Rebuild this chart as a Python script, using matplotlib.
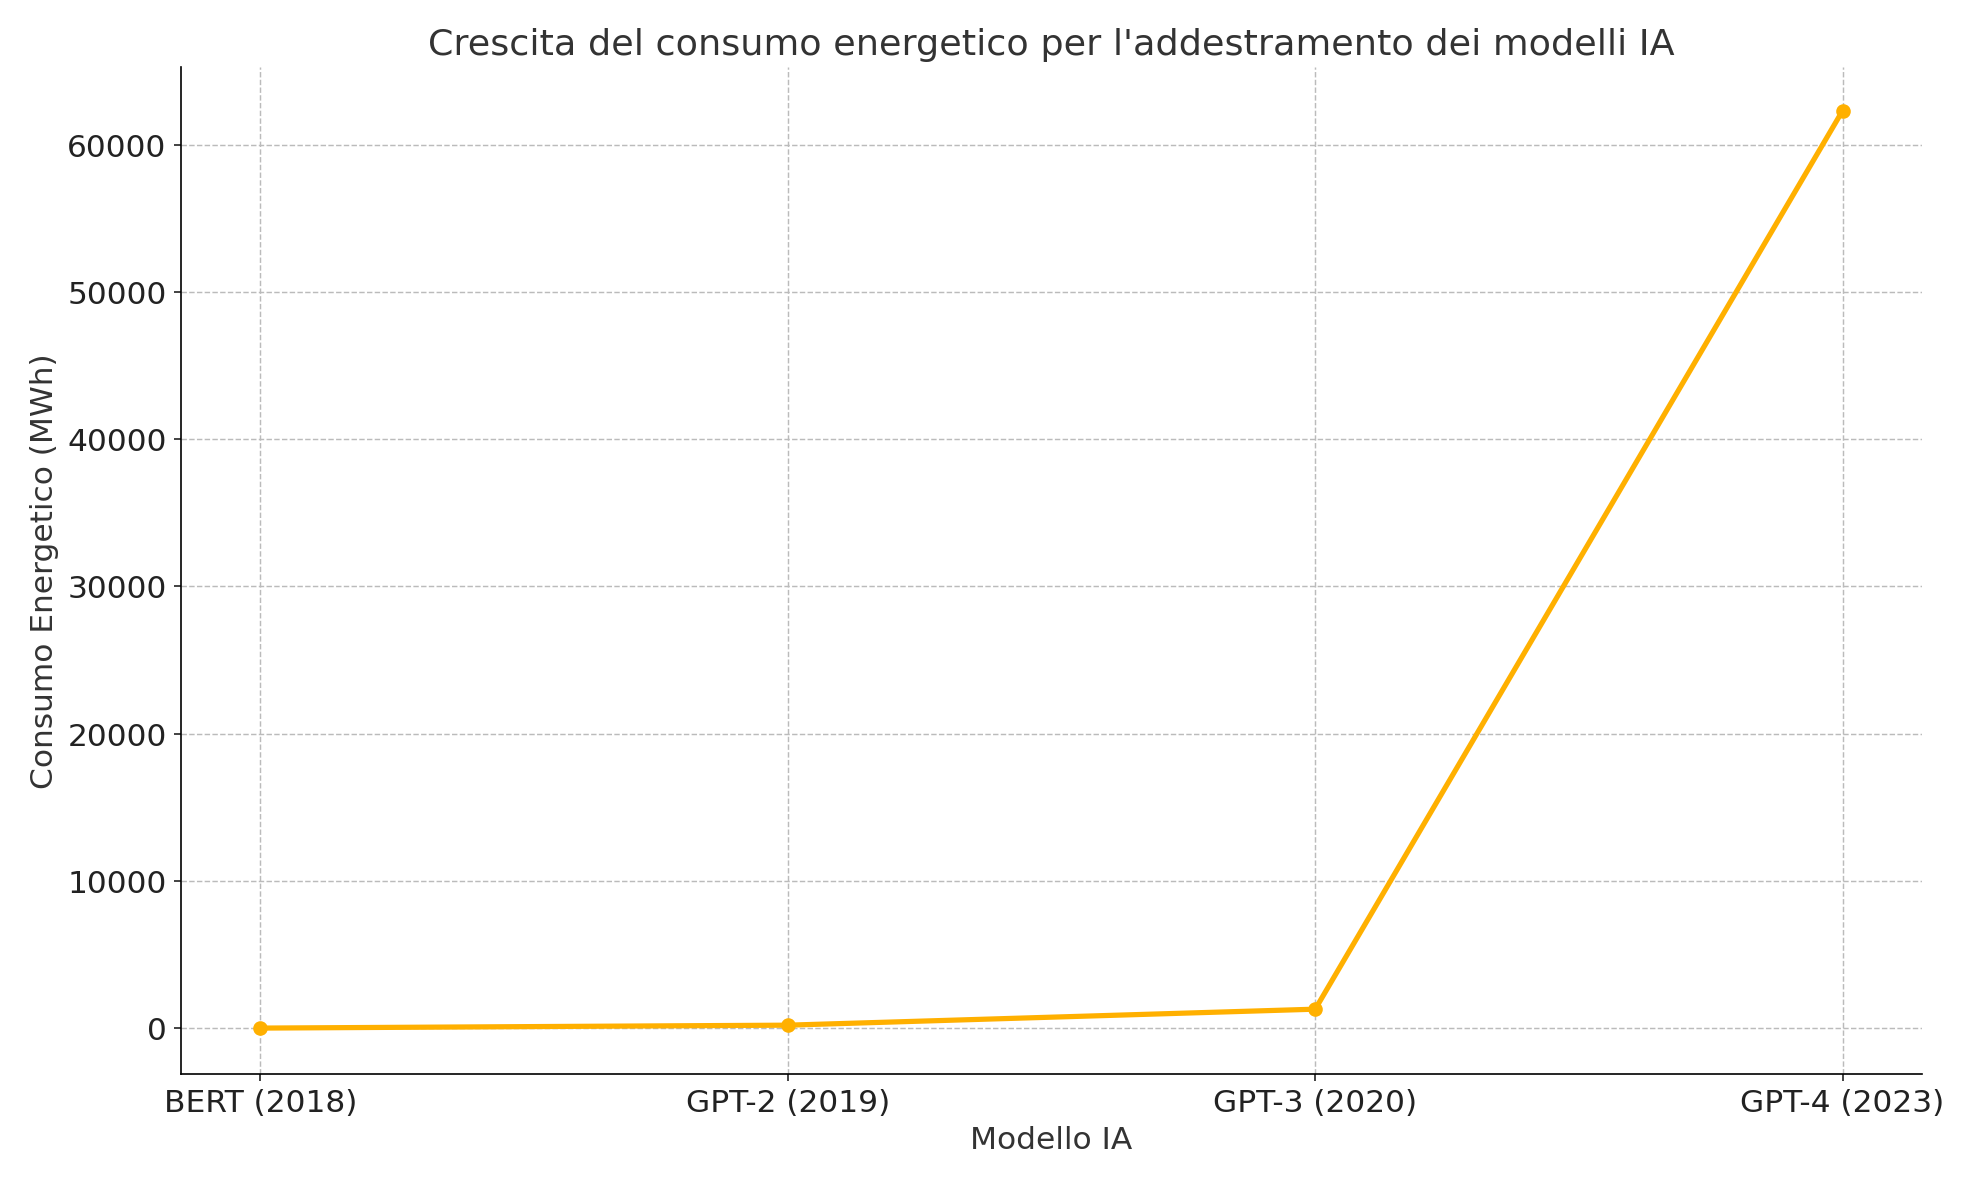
import matplotlib
matplotlib.use("Agg")
import matplotlib.pyplot as plt

models = ["BERT (2018)", "GPT-2 (2019)", "GPT-3 (2020)", "GPT-4 (2023)"]
energy = [1.5, 200, 1287, 62319]

fig, ax = plt.subplots(figsize=(13.14, 7.87), dpi=150)
ax.plot(models, energy, marker="o", color="#FFB000", linewidth=2.5, markersize=6)
ax.set_title("Crescita del consumo energetico per l'addestramento dei modelli IA", fontsize=17.5, color="#333333")
ax.set_xlabel("Modello IA", fontsize=15, color="#333333")
ax.set_ylabel("Consumo Energetico (MWh)", fontsize=15, color="#333333")
ax.tick_params(labelsize=15, colors="#222222")
ax.grid(True, linestyle="--", color="#bbbbbb", linewidth=0.7)
ax.spines["top"].set_visible(False)
ax.spines["right"].set_visible(False)
ax.set_ylim(-3100, 65300)
fig.subplots_adjust(left=0.092, right=0.975, top=0.943, bottom=0.09)
fig.savefig("out.png")
